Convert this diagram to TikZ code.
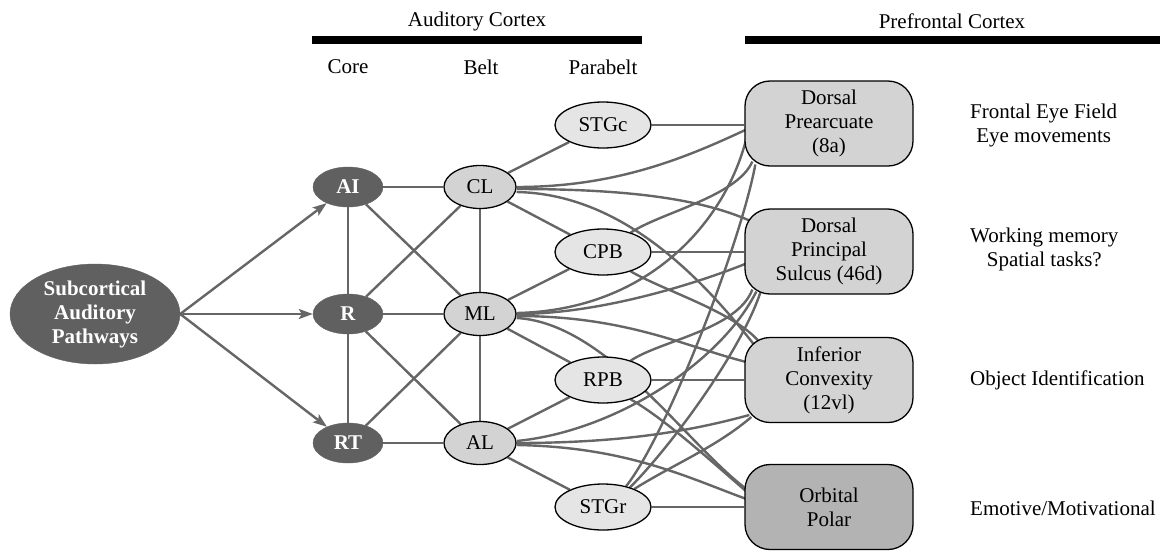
\documentclass[tikz,border=0pt]{standalone}
\usepackage{fontspec}
\setmainfont{Liberation Serif}
\usetikzlibrary{shapes.geometric,arrows.meta,calc,backgrounds}
\definecolor{coregray}{HTML}{606060}
\definecolor{edgegray}{HTML}{666666}
\definecolor{beltgray}{HTML}{D3D3D3}
\definecolor{paragray}{HTML}{E5E5E5}
\definecolor{boxgray}{HTML}{D3D3D3}
\definecolor{orbgray}{HTML}{B3B3B3}
\begin{document}
\begin{tikzpicture}[x=1pt,y=-1pt,
  every node/.style={font=\fontsize{21}{24}\selectfont, inner sep=0pt, align=center},
  core/.style={ellipse, fill=coregray, draw=coregray, text=white, font=\fontsize{21}{24}\selectfont\bfseries, minimum width=70pt, minimum height=40pt},
  subc/.style={ellipse, fill=coregray, draw=coregray, text=white, font=\fontsize{21}{24}\selectfont\bfseries, minimum width=170pt, minimum height=100pt},
  belt/.style={ellipse, fill=beltgray, draw=black, line width=1.3pt, minimum width=72pt, minimum height=43pt},
  para/.style={ellipse, fill=paragray, draw=black, line width=1.3pt, minimum width=96pt, minimum height=46pt},
  pfc/.style={rectangle, rounded corners=25pt, fill=boxgray, draw=black, line width=1.3pt, minimum width=168pt, minimum height=85pt},
  lbl/.style={anchor=west},
  edge/.style={draw=edgegray, line width=2.4pt},
  arr/.style={edge, -{Stealth[length=14pt,width=10pt,inset=3pt]}},
  bar/.style={draw=black, line width=8pt}
]
\useasboundingbox (0,0) rectangle (1160,550);

% headers
\node (hac) at (477,21) {Auditory Cortex};
\node (hpc) at (952,21) {Prefrontal Cortex};
\node (hcore) at (348,67) {Core};
\node (hbelt) at (481,67) {Belt};
\node (hpara) at (603,67) {Parabelt};
\coordinate (b1s) at (312,40);
\coordinate (b1e) at (642,40);
\coordinate (b2s) at (745,40);
\coordinate (b2e) at (1160,40);
\draw[bar] (b1s) -- (b1e);
\draw[bar] (b2s) -- (b2e);

% nodes
\node[subc] (Sub) at (95,314) {Subcortical\\Auditory\\Pathways};
\node[core] (AI) at (348,187) {AI};
\node[core] (R) at (348,314) {R};
\node[core] (RT) at (348,443) {RT};
\node[belt] (CL) at (480,187) {CL};
\node[belt] (ML) at (480,314) {ML};
\node[belt] (AL) at (480,443) {AL};
\node[para] (STGc) at (603,125) {STGc};
\node[para] (CPB) at (603,252) {CPB};
\node[para] (RPB) at (603,380) {RPB};
\node[para] (STGr) at (603,507) {STGr};
\node[pfc] (DP) at (829,123.5) {Dorsal\\Prearcuate\\(8a)};
\node[pfc] (DPS) at (829,251.5) {Dorsal\\Principal\\Sulcus (46d)};
\node[pfc] (IC) at (829,380) {Inferior\\Convexity\\(12vl)};
\node[pfc, fill=orbgray] (OP) at (829,507) {Orbital\\Polar};

\node[lbl] (fef) at (970,125) {Frontal Eye Field\\Eye movements};
\node[lbl] (wm) at (970,249) {Working memory\\Spatial tasks?};
\node[lbl] (oi) at (970,380) {Object Identification};
\node[lbl] (em) at (970,508) {Emotive/Motivational};

\begin{scope}[on background layer]
% subcortical arrows
\draw[arr] (Sub.east) -- (AI);
\draw[arr] (Sub.east) -- (R);
\draw[arr] (Sub.east) -- (RT);
% core - belt
\draw[edge] (AI) -- (CL);
\draw[edge] (AI) -- (R);
\draw[edge] (AI) -- (ML);
\draw[edge] (R) -- (CL);
\draw[edge] (R) -- (ML);
\draw[edge] (R) -- (RT);
\draw[edge] (R) -- (AL);
\draw[edge] (RT) -- (ML);
\draw[edge] (RT) -- (AL);
\draw[edge] (CL) -- (ML);
\draw[edge] (ML) -- (AL);
% belt - parabelt
\draw[edge] (CL) -- (STGc);
\draw[edge] (CL) -- (CPB);
\draw[edge] (ML) -- (CPB);
\draw[edge] (ML) -- (RPB);
\draw[edge] (AL) -- (RPB);
\draw[edge] (AL) -- (STGr);
% parabelt - pfc straight
\draw[edge] (STGc.east) -- (STGc.east -| DP.west);
\draw[edge] (CPB.east) -- (CPB.east -| DPS.west);
\draw[edge] (RPB.east) -- (RPB.east -| IC.west);
\draw[edge] (STGr.east) -- (STGr.east -| OP.west);
% CL
\draw[edge] (CL.east) .. controls +(100,0) and +(-60,28) .. ($(DP.west)+(2,6)$);
\draw[edge] ($(CL.east)+(0,2)$) .. controls +(110,0) and +(-50,-22) .. ($(DPS.west)+(5,-31)$);
\draw[edge] ($(CL.east)+(0,5)$) .. controls +(104,2) and +(-55,-70) .. ($(IC.west)+(10,-35)$);
% CPB
\draw[edge] (CPB.35) .. controls +(30,-20) and +(-15,35) .. ($(DP.west)+(8,38)$);
\draw[edge] (CPB.-35) .. controls +(35,20) and +(-25,-30) .. ($(IC.west)+(15,-38)$);
% ML
\draw[edge] ($(ML.east)+(0,-1)$) .. controls +(135,-3) and +(-20,80) .. ($(DP.west)+(2,15)$);
\draw[edge] (ML.east) .. controls +(84,0) and +(-50,20) .. ($(DPS.west)+(2,12)$);
\draw[edge] ($(ML.east)+(0,2)$) .. controls +(110,0) and +(-60,-15) .. ($(IC.west)+(2,-18)$);
\draw[edge] ($(ML.east)+(0,4)$) .. controls +(90,5) and +(-60,-45) .. ($(OP.west)+(2,-18)$);
% RPB
\draw[edge] (RPB.35) .. controls +(30,-20) and +(-15,40) .. ($(DPS.west)+(8,38)$);
\draw[edge] (RPB.-35) .. controls +(35,20) and +(-35,-30) .. ($(OP.west)+(5,-13)$);
% AL
\draw[edge] ($(AL.east)+(0,-2)$) .. controls +(100,-10) and +(-35,70) .. ($(DPS.west)+(12,40)$);
\draw[edge] (AL.east) .. controls +(110,0) and +(-55,15) .. ($(IC.west)+(5,35)$);
\draw[edge] ($(AL.east)+(0,2)$) .. controls +(110,2) and +(-60,-22) .. ($(OP.west)+(2,-8)$);
% STGr
\draw[edge] (STGr.42) .. controls +(40,-50) and +(-15,80) .. ($(DP.west)+(11,41)$);
\draw[edge] (STGr.36) .. controls +(40,-40) and +(-20,60) .. ($(DPS.west)+(16,41)$);
\draw[edge] (STGr.30) .. controls +(40,-25) and +(-35,30) .. ($(IC.west)+(7,37)$);
\end{scope}
\end{tikzpicture}
\end{document}
